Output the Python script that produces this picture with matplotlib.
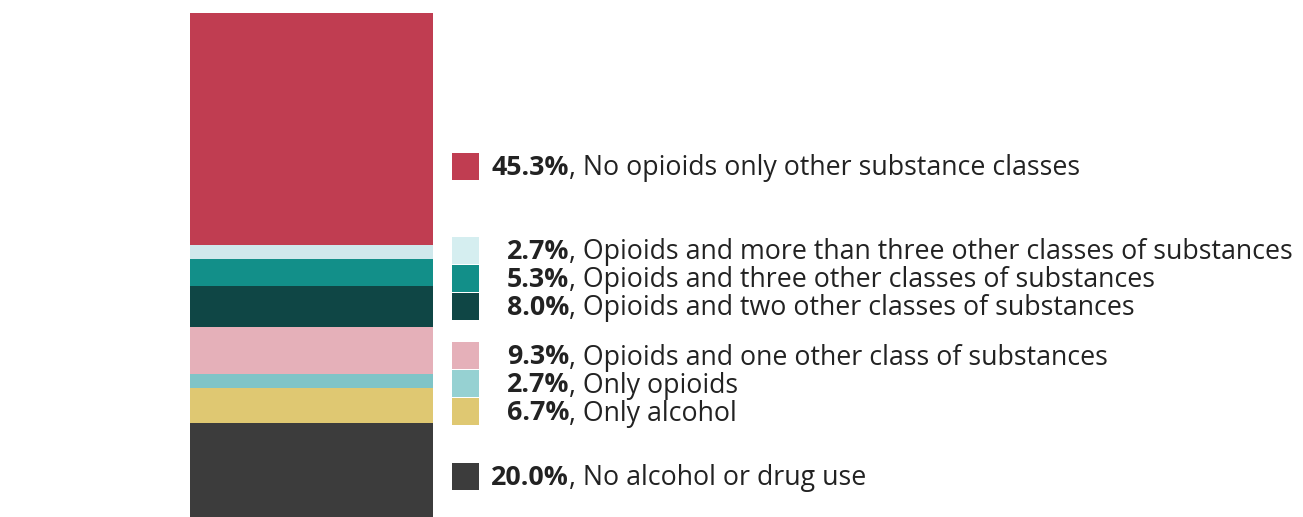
import matplotlib
matplotlib.use('Agg')
import matplotlib.pyplot as plt
from matplotlib.patches import Rectangle

# ------------- Datos -------------
categories = [
    "No alcohol or drug use",
    "Only alcohol",
    "Only opioids",
    "Opioids and one other class of substances",
    "Opioids and two other classes of substances",
    "Opioids and three other classes of substances",
    "Opioids and more than three other classes of substances",
    "No opioids only other substance classes",
]
shares = [20.0, 6.7, 2.7, 9.3, 8.0, 5.3, 2.7, 45.3]
bar_colors = ["#3c3c3c", "#dfc872", "#7fc4c7", "#e5b0b9",
              "#0f4645", "#128f89", "#cfe8ec", "#c03d51"]
key_colors = ["#3c3c3c", "#dfc872", "#96d1d2", "#e5b0b9",
              "#0f4645", "#128f89", "#d5eef0", "#c03d51"]

plt.rcParams['font.family'] = ['Open Sans', 'DejaVu Sans']

W, H = 1303, 517
fig = plt.figure(figsize=(W/100, H/100), dpi=100)

# barra apilada (se corta un poco por abajo)
bar_top, bar_len = 13, 512
ax = fig.add_axes([190/W, (H - bar_top - bar_len)/H, (433-190)/W, bar_len/H])
bottom = 0
for val, col in zip(shares, bar_colors):
    ax.bar(0, val, bottom=bottom, width=1, color=col, linewidth=0)
    bottom += val
ax.set_xlim(-0.5, 0.5)
ax.set_ylim(0, 100)
ax.axis('off')

# leyenda a mano, en coordenadas de pixel
lg = fig.add_axes([0, 0, 1, 1])
lg.set_xlim(0, W)
lg.set_ylim(H, 0)
lg.axis('off')
lg.patch.set_alpha(0)

key_y = [476, 411, 383, 355, 306, 278, 250, 166]
sq = 27
pct_right = 569
for cat, val, col, yc in zip(categories, shares, key_colors, key_y):
    lg.add_patch(Rectangle((452, yc - sq/2), sq, sq, color=col, lw=0))
    lg.text(pct_right, yc - 1, f"{val:.1f}%", ha='right', va='center_baseline',
            fontsize=19.3, fontweight='bold', color='#222222')
    lg.text(pct_right, yc - 1, f", {cat}", ha='left', va='center_baseline',
            fontsize=19.3, color='#222222')

fig.savefig("out.png", dpi=100)
